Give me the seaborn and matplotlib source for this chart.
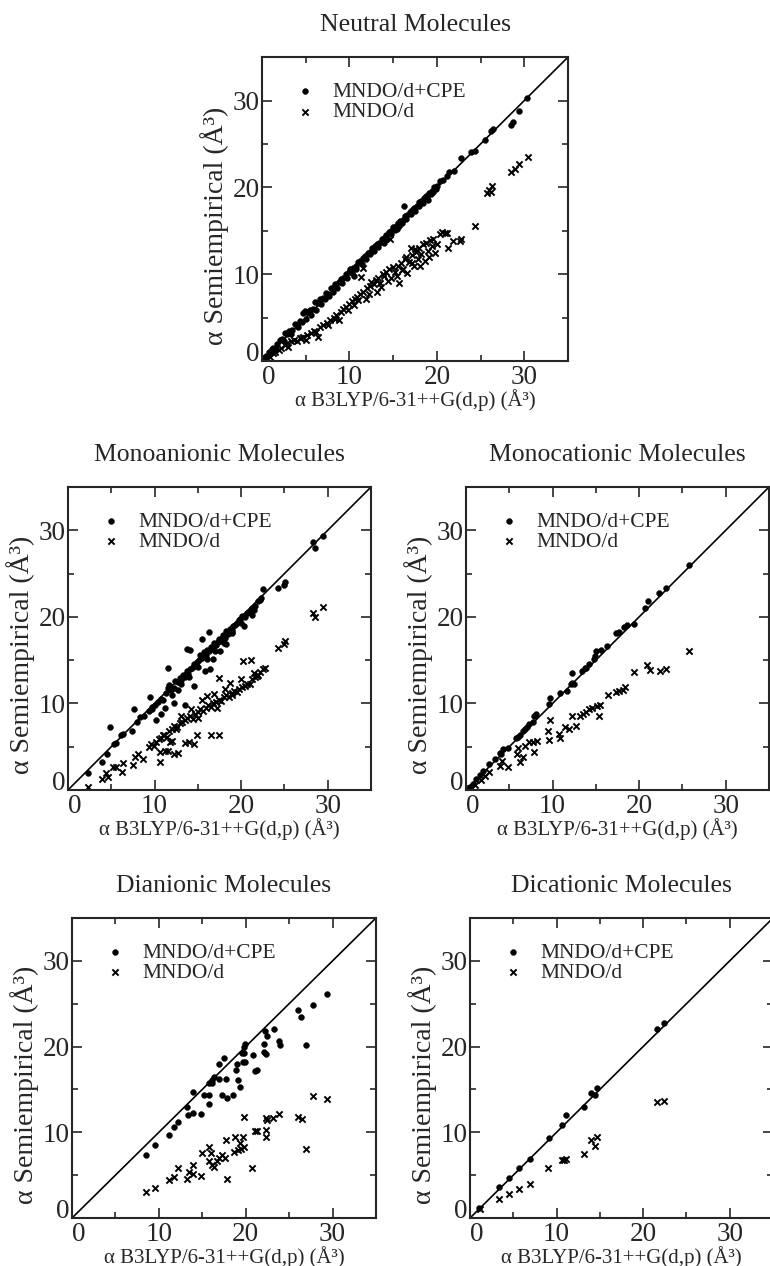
import matplotlib
matplotlib.use('Agg')
import matplotlib.pyplot as plt
import seaborn as sns
import pandas as pd
from matplotlib.ticker import MultipleLocator

# axis range and the y = x reference line
lims = [0, 35]
diag = [0, 35]

# ---- Neutral molecules ----
neutral_cpe_x = [0.2, 0.5, 0.8, 1.1, 1.3, 1.7, 2.0, 2.3, 2.6, 2.9,
                 3.1, 3.4, 3.8, 4.0, 4.3, 4.7, 4.9, 5.2, 5.5, 5.8,
                 6.1, 6.4, 6.6, 7.0, 7.3, 7.5, 7.9, 8.2, 8.4, 8.8,
                 9.0, 9.3, 9.6, 9.9, 10.1, 10.4, 10.7, 11.0, 11.2, 11.5,
                 11.8, 12.1, 12.3, 12.6, 12.9, 13.1, 13.4, 13.7, 13.9, 14.2,
                 14.5, 14.7, 15.0, 15.3, 15.5, 15.8, 16.1, 16.3, 16.6, 16.9,
                 17.1, 17.4, 17.7, 17.9, 18.2, 18.5, 18.8, 19.1, 19.4, 19.7,
                 20.0, 20.4, 20.7, 21.1, 21.4, 22.0, 22.8, 23.9, 24.4, 25.5,
                 26.2, 26.4, 28.5, 28.7, 29.4, 30.3,
                 0.9, 1.6, 2.5, 3.3, 4.1, 4.6, 5.0, 5.6, 6.2, 6.8,
                 7.2, 7.7, 8.1, 8.6, 9.2, 9.7, 10.3, 10.8, 11.4, 11.9,
                 12.4, 12.8, 13.3, 13.8, 14.3, 14.8, 15.2, 15.7, 16.0, 16.5,
                 17.0, 17.5, 18.0, 18.4, 18.9, 19.3, 19.6, 19.9, 10.5, 16.2,
                 14.0, 15.4, 19.0]
neutral_cpe_y = [0.3, 0.6, 1.0, 1.4, 1.5, 2.0, 2.4, 2.5, 3.2, 3.1,
                 3.5, 3.6, 4.3, 4.2, 4.6, 5.5, 5.8, 5.6, 5.9, 6.0,
                 6.8, 6.7, 7.2, 7.3, 7.8, 7.7, 8.4, 8.5, 8.9, 9.1,
                 9.5, 9.6, 10.0, 10.2, 10.6, 10.7, 11.0, 11.4, 11.5, 11.9,
                 12.1, 12.5, 12.6, 13.0, 13.2, 13.5, 13.6, 14.1, 14.2, 14.5,
                 14.9, 15.0, 15.4, 15.5, 15.9, 16.1, 16.3, 16.7, 16.8, 17.2,
                 17.4, 17.6, 17.9, 18.3, 18.4, 18.8, 19.0, 19.4, 19.6, 20.0,
                 20.1, 20.7, 20.9, 21.3, 21.8, 21.9, 23.4, 24.1, 24.2, 25.4,
                 26.5, 26.7, 27.2, 27.5, 28.8, 30.3,
                 0.8, 1.5, 2.3, 3.1, 3.9, 4.5, 4.9, 5.3, 5.9, 6.6,
                 7.1, 7.5, 8.0, 8.4, 9.0, 9.6, 10.1, 10.6, 11.2, 11.8,
                 12.3, 12.7, 13.1, 13.7, 14.1, 14.6, 15.1, 15.6, 15.9, 16.4,
                 16.9, 17.3, 17.9, 18.2, 18.8, 19.2, 19.5, 19.8, 9.8, 17.9,
                 13.6, 15.2, 18.6]
neutral_d_x = [0.5, 0.9, 1.2, 1.5, 1.9, 2.2, 2.6, 2.9, 3.3, 3.6,
               4.0, 4.3, 4.7, 5.0, 5.2, 5.6, 6.0, 6.4, 6.6, 7.0,
               7.4, 7.8, 8.2, 8.5, 8.8, 9.0, 9.3, 9.6, 10.0, 10.3,
               10.6, 10.9, 11.2, 11.5, 11.3, 11.6, 12.0, 12.3, 12.5, 12.8,
               13.0, 13.3, 13.5, 13.8, 14.0, 14.2, 14.5, 14.6, 14.7, 15.0,
               15.2, 15.5, 15.7, 15.9, 16.1, 16.3, 16.5, 16.8, 17.0, 17.2,
               17.4, 17.6, 17.8, 18.0, 18.2, 18.4, 18.6, 18.8, 19.0, 19.2,
               19.4, 19.6, 19.8, 20.0, 20.3, 20.6, 20.9, 21.1, 21.3, 21.9,
               22.8, 22.7, 24.4, 25.7, 26.0, 26.3, 26.2, 28.5, 28.9, 29.4,
               30.4, 3.0, 4.5, 6.2, 7.5, 8.3, 9.8, 10.5, 11.0, 12.2,
               13.6, 14.4, 15.4, 16.0, 16.6, 17.1, 18.1, 19.1, 17.5, 13.1,
               11.9]
neutral_d_y = [0.3, 0.5, 0.9, 1.0, 1.3, 1.5, 1.8, 2.1, 2.3, 2.4,
               2.3, 2.6, 2.8, 2.4, 3.0, 3.2, 3.5, 2.8, 3.9, 4.1,
               4.4, 4.7, 5.0, 5.3, 4.7, 5.7, 6.0, 6.2, 6.6, 6.9,
               7.1, 7.4, 7.7, 8.0, 9.7, 10.7, 8.4, 8.7, 9.1, 8.9,
               9.3, 9.6, 9.0, 10.0, 9.8, 10.3, 10.6, 14.0, 9.6, 10.8,
               10.2, 11.0, 9.0, 11.3, 10.6, 11.8, 12.0, 11.4, 13.0, 12.2,
               11.0, 12.6, 11.7, 13.0, 12.3, 13.5, 11.5, 13.6, 12.7, 13.9,
               13.2, 14.0, 12.4, 13.5, 14.6, 14.9, 14.7, 14.8, 13.0, 13.8,
               14.1, 13.8, 15.5, 19.4, 19.7, 20.2, 19.5, 21.8, 22.1, 22.7,
               23.5, 1.6, 2.6, 3.3, 4.1, 4.8, 5.9, 6.5, 7.0, 7.7,
               8.5, 9.2, 9.8, 10.5, 10.1, 11.3, 11.0, 12.0, 12.9, 8.0,
               7.2]

# ---- Monoanionic molecules ----
monoanion_cpe_x = [2.3, 3.9, 4.5, 4.9, 5.3, 5.6, 6.1, 6.3, 7.4, 7.6,
                   8.0, 8.3, 8.8, 9.3, 9.5, 9.7, 10.1, 10.4, 10.8, 11.0,
                   11.3, 11.5, 11.7, 11.9, 12.2, 12.4, 12.7, 12.9, 13.1, 13.3,
                   13.5, 13.7, 13.9, 14.1, 14.3, 14.5, 14.7, 14.9, 15.1, 15.3,
                   15.5, 15.7, 15.9, 16.1, 16.3, 16.5, 16.7, 16.9, 17.1, 17.3,
                   17.5, 17.7, 17.9, 18.1, 18.3, 18.5, 18.7, 18.9, 19.1, 19.3,
                   19.5, 19.7, 19.9, 20.1, 20.4, 20.7, 21.0, 21.3, 21.6, 21.9,
                   22.2, 22.5, 22.3, 24.3, 25.0, 25.1, 28.3, 28.5, 29.5, 11.5,
                   13.7, 14.1, 15.5, 16.3, 16.4, 12.7, 12.2, 11.2, 10.8, 10.2,
                   9.7, 13.5, 14.6, 15.8, 16.8, 17.6, 18.2, 19.0, 20.3, 21.2,
                   12.0, 13.0, 14.0, 15.0, 16.0, 17.0, 18.0, 19.0, 20.0, 21.5]
monoanion_cpe_y = [2.0, 3.2, 4.2, 7.3, 5.3, 5.4, 6.3, 6.5, 6.8, 9.3,
                   7.8, 8.4, 8.5, 9.1, 10.7, 9.6, 9.8, 10.2, 10.5, 10.4,
                   11.2, 11.8, 12.1, 11.5, 11.8, 12.6, 12.5, 12.9, 12.7, 13.3,
                   13.1, 13.7, 13.4, 14.0, 14.1, 14.6, 14.3, 14.8, 15.0, 15.6,
                   15.2, 15.9, 15.6, 16.2, 16.0, 16.5, 16.3, 17.0, 16.8, 17.1,
                   17.4, 17.2, 17.9, 17.6, 18.4, 18.0, 18.6, 18.5, 19.0, 19.1,
                   19.3, 19.6, 19.7, 20.1, 20.0, 20.5, 20.6, 21.0, 21.3, 21.8,
                   22.0, 23.2, 22.2, 23.3, 23.7, 24.0, 28.6, 27.9, 29.3, 14.1,
                   16.3, 16.2, 17.5, 18.3, 14.0, 11.5, 10.0, 9.5, 8.8, 8.1,
                   9.4, 9.8, 12.0, 13.8, 15.1, 16.0, 16.9, 18.2, 19.0, 20.2,
                   11.0, 12.2, 13.0, 14.2, 15.1, 16.1, 17.0, 18.1, 19.3, 20.8]
monoanion_d_x = [2.3, 3.9, 4.6, 4.4, 5.2, 5.5, 6.2, 6.3, 7.5, 7.7,
                 8.1, 8.7, 10.6, 10.6, 11.2, 11.6, 12.2, 12.7, 13.5, 14.0,
                 14.6, 14.9, 16.5, 11.8, 12.0, 17.4, 21.1, 21.5, 24.3, 25.0,
                 25.1, 28.3, 28.5, 29.5, 20.2, 17.4,
                 9.3, 9.6, 9.9, 10.2, 10.5, 10.8, 11.1, 11.4, 11.7, 12.0,
                 12.3, 12.6, 12.9, 13.2, 13.5, 13.8, 14.1, 14.4, 14.7, 15.0,
                 15.3, 15.6, 15.9, 16.2, 16.5, 16.8, 17.1, 17.4, 17.7, 18.0,
                 18.3, 18.6, 18.9, 19.2, 19.5, 19.8, 20.1, 20.4, 20.7, 21.0,
                 21.3, 21.6, 21.9, 22.2, 22.5, 22.8, 13.0, 14.2, 15.5, 16.9,
                 18.1, 19.0, 20.0, 17.2, 15.0, 12.5, 11.0, 16.0, 18.7, 21.8]
monoanion_d_y = [0.4, 1.3, 1.5, 2.0, 2.7, 2.7, 2.1, 3.1, 2.9, 3.8,
                 4.1, 3.6, 3.2, 4.4, 4.5, 4.5, 4.2, 4.3, 5.4, 5.5,
                 5.3, 6.4, 6.4, 5.5, 5.7, 12.9, 15.0, 13.5, 16.4, 16.9,
                 17.2, 20.5, 20.0, 21.1, 14.9, 6.3,
                 5.0, 5.3, 5.1, 5.6, 5.9, 6.0, 6.3, 6.1, 6.8, 7.0,
                 7.4, 7.3, 7.7, 7.9, 8.1, 8.3, 8.5, 8.2, 8.8, 9.0,
                 9.3, 9.1, 9.5, 9.8, 9.6, 10.0, 10.2, 10.4, 10.3, 10.7,
                 11.0, 10.8, 11.2, 11.4, 11.3, 11.7, 11.9, 12.0, 12.3, 12.2,
                 12.8, 13.0, 13.3, 13.6, 14.0, 14.1, 8.6, 9.4, 10.4, 11.1,
                 11.7, 11.0, 12.8, 9.5, 8.3, 7.0, 6.4, 10.9, 12.4, 13.2]

# ---- Monocationic molecules ----
monocation_cpe_x = [0.5, 0.8, 1.2, 2.0, 2.7, 3.9, 4.3, 4.8, 6.0, 6.2,
                    6.6, 7.0, 7.3, 7.7, 7.9, 8.1, 9.6, 9.7, 10.9, 11.7,
                    12.1, 12.3, 12.2, 13.4, 13.7, 14.2, 14.8, 15.0, 15.6, 16.3,
                    17.3, 17.7, 18.3, 18.6, 19.4, 20.7, 21.0, 22.3, 23.1, 25.8,
                    14.9, 13.9, 6.8, 5.8, 3.3, 1.6, 4.0, 12.5]
monocation_cpe_y = [0.3, 0.7, 1.3, 2.2, 3.0, 4.3, 4.7, 4.9, 6.1, 6.3,
                    6.8, 7.3, 7.6, 7.9, 8.6, 8.8, 9.9, 10.6, 11.2, 11.4,
                    12.3, 13.5, 12.4, 13.7, 14.1, 14.6, 15.1, 16.0, 16.2, 16.6,
                    18.1, 18.3, 18.8, 19.1, 19.2, 21.0, 21.8, 22.7, 23.3, 26.0,
                    15.5, 14.1, 7.0, 6.0, 3.6, 1.7, 4.1, 12.2]
monocation_d_x = [0.5, 1.0, 1.7, 2.2, 2.7, 3.9, 4.2, 4.8, 5.9, 6.0,
                  6.2, 6.6, 6.8, 7.3, 7.7, 7.8, 8.2, 9.5, 9.6, 9.7,
                  10.8, 10.9, 11.4, 11.9, 12.3, 12.7, 13.2, 13.5, 13.9, 14.2,
                  14.6, 15.1, 15.5, 15.4, 16.4, 17.3, 17.7, 18.1, 18.4, 19.4,
                  20.9, 21.3, 22.4, 23.1, 25.8]
monocation_d_y = [0.2, 0.6, 1.2, 1.6, 2.1, 2.8, 3.3, 2.6, 4.2, 4.8,
                  3.2, 3.8, 5.1, 5.5, 5.5, 4.4, 5.7, 6.8, 5.8, 8.1,
                  6.5, 6.0, 7.3, 7.1, 8.5, 7.4, 8.6, 8.8, 9.0, 9.3,
                  9.5, 9.7, 9.8, 8.6, 11.0, 11.3, 11.4, 11.6, 11.9, 13.6,
                  14.4, 13.9, 13.8, 14.0, 16.0]

# ---- Dianionic molecules ----
dianion_cpe_x = [8.5, 9.5, 11.2, 11.7, 12.2, 13.2, 13.4, 13.9, 13.9, 14.9,
                 15.2, 15.8, 15.8, 15.8, 16.1, 16.1, 16.4, 16.9, 17.3, 16.9,
                 17.5, 17.8, 17.7, 18.5, 18.9, 19.0, 19.1, 19.4, 19.6, 19.7,
                 19.8, 19.9, 20.8, 21.1, 21.3, 22.1, 22.1, 22.2, 22.3, 22.5,
                 23.2, 23.8, 23.9, 26.0, 26.4, 26.9, 27.8, 29.4, 19.8, 19.9]
dianion_cpe_y = [7.3, 8.5, 9.7, 10.6, 11.2, 13.0, 12.0, 14.7, 12.3, 12.1,
                 14.3, 13.3, 14.3, 15.8, 16.1, 15.7, 16.4, 16.2, 14.3, 18.0,
                 18.7, 14.0, 16.2, 14.4, 17.3, 18.0, 16.1, 15.3, 19.3, 18.2,
                 20.0, 20.3, 19.0, 17.2, 17.3, 19.4, 20.3, 21.8, 19.1, 21.2,
                 22.0, 20.7, 20.2, 24.3, 23.5, 20.2, 24.8, 26.1, 19.2, 18.2]
dianion_d_x = [8.5, 9.5, 11.2, 11.7, 12.2, 13.2, 13.5, 13.9, 13.9, 14.9,
               15.0, 15.8, 16.0, 15.8, 16.1, 16.3, 16.7, 16.9, 17.3, 17.6,
               17.7, 17.8, 18.6, 18.8, 19.1, 19.3, 19.5, 19.7, 19.8, 19.8,
               20.7, 21.1, 21.3, 22.3, 22.3, 22.3, 22.4, 23.1, 23.8, 26.0,
               26.5, 26.9, 27.8, 29.4]
dianion_d_y = [3.0, 3.5, 4.4, 4.8, 5.8, 4.5, 5.4, 6.2, 5.1, 4.9,
               7.6, 8.3, 7.6, 6.6, 6.2, 5.9, 6.6, 7.0, 7.4, 7.0,
               9.1, 4.6, 7.7, 9.5, 7.9, 8.7, 8.1, 9.5, 11.8, 8.3,
               5.8, 10.1, 10.1, 9.5, 10.3, 11.7, 11.4, 11.7, 12.1, 11.8,
               11.5, 8.1, 14.2, 13.9]

# ---- Dicationic molecules ----
dication_cpe_x = [1.0, 3.4, 4.5, 5.7, 6.9, 9.1, 10.6, 11.1, 13.2, 14.0,
                  14.4, 14.7, 21.6, 22.4]
dication_cpe_y = [1.2, 3.6, 4.7, 5.8, 6.9, 9.3, 10.8, 12.0, 12.9, 14.6,
                  14.4, 15.2, 22.0, 22.7]
dication_d_x = [1.1, 3.4, 4.5, 5.7, 6.9, 9.0, 10.6, 10.9, 11.1, 13.2,
                14.0, 14.4, 14.7, 21.6, 22.4]
dication_d_y = [1.0, 2.2, 2.8, 3.4, 4.0, 5.8, 6.8, 6.8, 6.9, 7.5,
                9.1, 8.4, 9.4, 13.5, 13.7]

sns.set_style('ticks')
plt.rcParams['font.family'] = ['Liberation Serif', 'DejaVu Serif']


def draw_panel(ax, title, cpe_x, cpe_y, d_x, d_y):
    cpe = pd.DataFrame({'x': cpe_x, 'y': cpe_y})
    plain = pd.DataFrame({'x': d_x, 'y': d_y})
    sns.lineplot(x=diag, y=diag, ax=ax, color='black', linewidth=1.2)
    sns.scatterplot(data=cpe, x='x', y='y', ax=ax, marker='o', s=18,
                    color='black', edgecolor='black', linewidth=0.3,
                    label='MNDO/d+CPE')
    sns.scatterplot(data=plain, x='x', y='y', ax=ax, marker='x', s=20,
                    color='black', linewidth=1.4, label='MNDO/d')
    ax.set_xlim(lims)
    ax.set_ylim(lims)
    ax.xaxis.set_major_locator(MultipleLocator(10))
    ax.yaxis.set_major_locator(MultipleLocator(10))
    ax.xaxis.set_minor_locator(MultipleLocator(5))
    ax.yaxis.set_minor_locator(MultipleLocator(5))
    ax.tick_params(which='both', direction='in', top=True, right=True,
                   width=1.2, labelsize=19.5, pad=3)
    ax.tick_params(axis='y', pad=1.5)
    ax.tick_params(which='major', length=7)
    ax.tick_params(which='minor', length=4)
    # the two "0" labels at the origin sit apart, as in the original
    for lab in ax.get_xticklabels():
        if lab.get_text() == '0':
            lab.set_ha('left')
    for lab in ax.get_yticklabels():
        if lab.get_text() == '0':
            lab.set_va('baseline')
    for sp in ax.spines.values():
        sp.set_linewidth(1.5)
    ax.set_xlabel('α B3LYP/6-31++G(d,p) (Å³)', fontsize=15, labelpad=-1)
    ax.set_ylabel('α Semiempirical (Å³)', fontsize=20)
    # label anchor is the right edge of the rotated text
    ax.yaxis.set_label_coords(-0.108, 0.445)
    ax.set_title(title, fontsize=18.5, pad=19)
    ax.legend(loc='upper left', bbox_to_anchor=(0.105, 0.918), frameon=False,
              fontsize=15.5, handlelength=1.0, handletextpad=0.8,
              labelspacing=0.0, borderpad=0, borderaxespad=0)


fig = plt.figure(figsize=(7.7, 12.66), dpi=100)
ax_n = fig.add_axes([0.3403, 0.7148, 0.3974, 0.2401])
ax_ma = fig.add_axes([0.0883, 0.3760, 0.3935, 0.2393])
ax_mc = fig.add_axes([0.6052, 0.3760, 0.3935, 0.2393])
ax_da = fig.add_axes([0.0935, 0.0379, 0.3948, 0.2370])
ax_dc = fig.add_axes([0.6104, 0.0379, 0.3935, 0.2370])

draw_panel(ax_n, 'Neutral Molecules', neutral_cpe_x, neutral_cpe_y,
           neutral_d_x, neutral_d_y)
draw_panel(ax_ma, 'Monoanionic Molecules', monoanion_cpe_x, monoanion_cpe_y,
           monoanion_d_x, monoanion_d_y)
draw_panel(ax_mc, 'Monocationic Molecules', monocation_cpe_x, monocation_cpe_y,
           monocation_d_x, monocation_d_y)
draw_panel(ax_da, 'Dianionic Molecules', dianion_cpe_x, dianion_cpe_y,
           dianion_d_x, dianion_d_y)
draw_panel(ax_dc, 'Dicationic Molecules', dication_cpe_x, dication_cpe_y,
           dication_d_x, dication_d_y)

fig.savefig('out.png', dpi=100)
